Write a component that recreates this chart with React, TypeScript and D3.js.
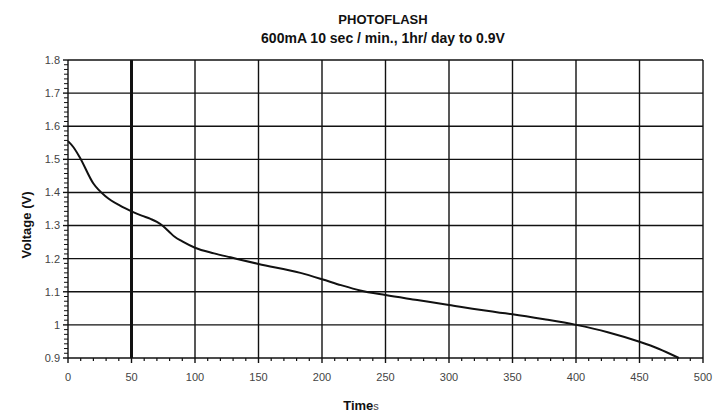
import * as d3 from "d3";

const TITLE = "PHOTOFLASH";
const SUBTITLE = "600mA 10 sec / min., 1hr/ day to 0.9V";

// discharge curve (time, volts)
const times = [0, 4, 9, 20, 30, 41, 50, 58, 65, 70, 75, 80, 84, 90, 100, 115, 128, 150, 183, 200, 215, 230, 250, 275, 300, 340, 350, 375, 400, 425, 450, 465, 481];
const volts = [1.555, 1.538, 1.508, 1.427, 1.387, 1.36, 1.343, 1.33, 1.32, 1.311, 1.298, 1.28, 1.266, 1.252, 1.233, 1.216, 1.204, 1.184, 1.157, 1.138, 1.12, 1.104, 1.09, 1.075, 1.06, 1.037, 1.032, 1.017, 1.0, 0.978, 0.949, 0.928, 0.9];

const xTicks = [0, 50, 100, 150, 200, 250, 300, 350, 400, 450, 500];
const yTicks = [0.9, 1, 1.1, 1.2, 1.3, 1.4, 1.5, 1.6, 1.7, 1.8];

const W = 725;
const H = 415;
const M = { left: 68, right: 22, top: 60, bottom: 57 };
const FONT = "'Liberation Sans', Arial, sans-serif";

export default function App() {
	const x = d3.scaleLinear().domain([0, 500]).range([M.left, W - M.right]);
	const y = d3.scaleLinear().domain([0.9, 1.8]).range([H - M.bottom, M.top]);

	const data = times.map((t, i) => [t, volts[i]] as [number, number]);
	const line = d3
		.line<[number, number]>()
		.x((d) => x(d[0]))
		.y((d) => y(d[1]))
		.curve(d3.curveMonotoneX);

	const xMinor = d3.range(0, 500, 10).filter((v) => v % 50 !== 0);
	const yMinor = d3.range(1, 63).map((i) => 0.9 + i * (0.1 / 7)).filter((_, i) => (i + 1) % 7 !== 0);

	const [x0, x1] = x.range();
	const [y0, y1] = y.range();

	return (
		<svg width={W} height={H} style={{ position: "absolute", left: 0, top: 0, fontFamily: FONT }}>
			<rect width={W} height={H} fill="#fff" />
			<text x={383} y={24} textAnchor="middle" fontSize={13} fontWeight="bold" fill="#111">
				{TITLE}
			</text>
			<text x={383} y={43} textAnchor="middle" fontSize={14} fontWeight="bold" fill="#111">
				{SUBTITLE}
			</text>

			{/* grid */}
			{yTicks.map((v) => (
				<line key={"gy" + v} x1={x0} x2={x1} y1={y(v)} y2={y(v)} stroke="#111" strokeWidth={1.4} />
			))}
			{xTicks.map((v) => (
				<line
					key={"gx" + v}
					x1={x(v)}
					x2={x(v)}
					y1={y0}
					y2={y1}
					stroke="#111"
					strokeWidth={v === 50 ? 3 : 1.4}
				/>
			))}

			{/* minor ticks */}
			{yMinor.map((v, i) => (
				<line key={"my" + i} x1={x0 - 4} x2={x0} y1={y(v)} y2={y(v)} stroke="#111" strokeWidth={1} />
			))}
			{xMinor.map((v) => (
				<line key={"mx" + v} x1={x(v)} x2={x(v)} y1={y0} y2={y0 + 3} stroke="#111" strokeWidth={1.2} />
			))}
			{yTicks.map((v) => (
				<line key={"ty" + v} x1={x0 - 5} x2={x0} y1={y(v)} y2={y(v)} stroke="#111" strokeWidth={1.4} />
			))}
			{xTicks.map((v) => (
				<line key={"tx" + v} x1={x(v)} x2={x(v)} y1={y0} y2={y0 + 5} stroke="#111" strokeWidth={1.4} />
			))}

			{/* tick labels */}
			{yTicks.map((v) => (
				<text key={"ly" + v} x={x0 - 8} y={y(v)} dy="0.35em" textAnchor="end" fontSize={11} fill="#444">
					{String(v)}
				</text>
			))}
			{xTicks.map((v) => (
				<text key={"lx" + v} x={x(v)} y={y0 + 23} textAnchor="middle" fontSize={11} fill="#444">
					{String(v)}
				</text>
			))}

			<path d={line(data) ?? ""} fill="none" stroke="#111" strokeWidth={2} />

			<text x={361} y={410} textAnchor="middle" fontSize={13} fill="#111">
				<tspan fontWeight="bold">Time</tspan>
				<tspan fontSize={11} fill="#444">s</tspan>
			</text>
			<text
				transform={`translate(31, 225) rotate(-90)`}
				textAnchor="middle"
				fontSize={13}
				fontWeight="bold"
				fill="#111"
			>
				Voltage (V)
			</text>
		</svg>
	);
}
